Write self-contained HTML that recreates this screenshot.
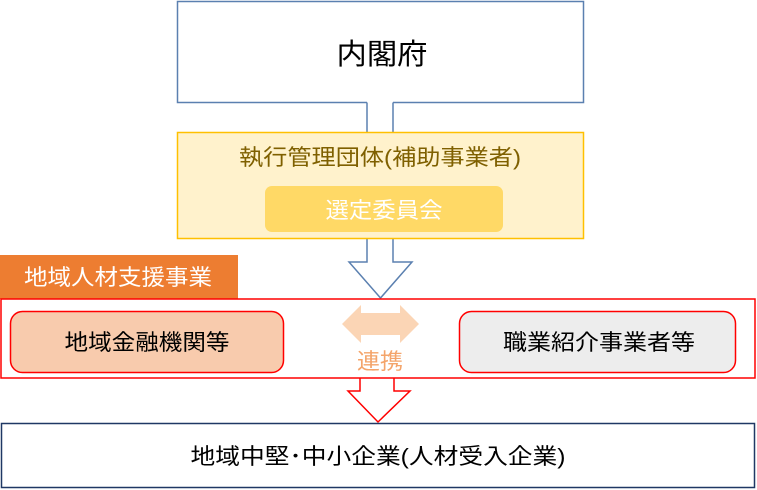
<!DOCTYPE html>
<html><head><meta charset="utf-8"><style>
html,body{margin:0;padding:0;background:#fff;}
svg{display:block;font-family:"Liberation Sans","Noto Sans CJK JP",sans-serif;}
</style></head><body>
<svg width="757" height="490" viewBox="0 0 757 490" xmlns="http://www.w3.org/2000/svg">
<!-- blue arrow -->
<path d="M367,102 L367,262 L349,262 L380.5,298 L412,262 L393,262 L393,102" fill="#fff" stroke="#5b80b0" stroke-width="1.5"/>
<path d="M367,102.5 L177.5,102.5 L177.5,1.5 L583.5,1.5 L583.5,102.5 L393,102.5" fill="#fff" stroke="#5b80b0" stroke-width="1.5"/>
<rect x="370" y="96" width="20" height="8" fill="#fff"/>
<text x="382" y="64" font-size="29" text-anchor="middle" fill="#000" textLength="91" lengthAdjust="spacingAndGlyphs">内閣府</text>
<rect x="177.5" y="132.5" width="406" height="106" fill="#fff2cc" stroke="#ffc000" stroke-width="1.5"/>
<text x="380" y="165" font-size="22" text-anchor="middle" fill="#7f6000" textLength="282" lengthAdjust="spacingAndGlyphs">執行管理団体(補助事業者)</text>
<rect x="265" y="186" width="238" height="46" rx="7" fill="#ffd966"/>
<text x="384" y="218" font-size="22" text-anchor="middle" fill="#fff" textLength="117" lengthAdjust="spacingAndGlyphs">選定委員会</text>
<rect x="0" y="255" width="238" height="44" fill="#ed7d31"/>
<text x="118" y="285" font-size="22" text-anchor="middle" fill="#fff" textLength="188" lengthAdjust="spacingAndGlyphs">地域人材支援事業</text>
<!-- red down arrow -->
<path d="M360,378 L360,391 L348,391 L378,422 L410,391 L394,391 L394,378" fill="#fff" stroke="#ff0000" stroke-width="1.5"/>
<rect x="1" y="299" width="754" height="79" fill="none" stroke="#ff0000" stroke-width="1.5"/>
<rect x="10.5" y="311.5" width="273" height="61" rx="12" fill="#f8cbad" stroke="#ff0000" stroke-width="1.5"/>
<text x="147" y="350" font-size="22" text-anchor="middle" fill="#000" textLength="165" lengthAdjust="spacingAndGlyphs">地域金融機関等</text>
<rect x="459.5" y="311.5" width="276" height="61" rx="12" fill="#ededed" stroke="#ff0000" stroke-width="1.5"/>
<text x="599" y="350" font-size="22" text-anchor="middle" fill="#000" textLength="192" lengthAdjust="spacingAndGlyphs">職業紹介事業者等</text>
<path d="M342,324 L361,305 L361,313 L400,313 L400,305 L419,324 L400,343 L400,335 L361,335 L361,343 Z" fill="#fbd5b5"/>
<text x="380" y="369" font-size="22" text-anchor="middle" fill="#f4a46a" textLength="46" lengthAdjust="spacingAndGlyphs">連携</text>
<rect x="1.5" y="423.5" width="753" height="64" fill="#fff" stroke="#1f3864" stroke-width="1.5"/>
<text x="378" y="464" font-size="22" text-anchor="middle" fill="#000" textLength="375" lengthAdjust="spacingAndGlyphs">地域中堅･中小企業(人材受入企業)</text>
</svg>
</body></html>
